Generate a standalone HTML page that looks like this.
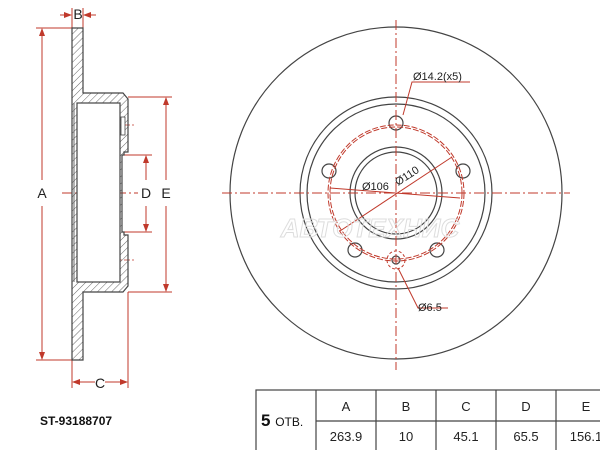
<!DOCTYPE html>
<html><head><meta charset="utf-8"><style>
body{margin:0;background:#fff;width:600px;height:450px;overflow:hidden}
svg{display:block;font-family:"Liberation Sans",Arial,sans-serif}
</style></head><body>
<svg width="600" height="450" viewBox="0 0 600 450">
<defs>
<pattern id="h" width="5" height="5" patternUnits="userSpaceOnUse" patternTransform="rotate(45)">
<line x1="0" y1="0" x2="0" y2="5" stroke="#555" stroke-width="0.9"/></pattern>
<marker id="ar" markerWidth="8" markerHeight="6" refX="7" refY="3" orient="auto"><path d="M0,0L8,3L0,6z" fill="#c0392b"/></marker>
</defs>
<g fill="none" stroke="#c0392b" stroke-width="1">
<line x1="36" y1="28" x2="72" y2="28"/><line x1="36" y1="360" x2="72" y2="360"/>
<line x1="128" y1="97" x2="172" y2="97"/><line x1="128" y1="292" x2="172" y2="292"/>
<line x1="122" y1="155" x2="152" y2="155"/><line x1="122" y1="232" x2="152" y2="232"/>
<line x1="72" y1="360" x2="72" y2="388"/><line x1="128" y1="292" x2="128" y2="388"/>
<line x1="72" y1="8" x2="72" y2="28"/><line x1="83" y1="8" x2="83" y2="28"/>
</g>
<g stroke="#c0392b" stroke-width="1" marker-end="url(#ar)">
<line x1="42" y1="180" x2="42" y2="29"/><line x1="42" y1="206" x2="42" y2="359"/>
<line x1="166" y1="180" x2="166" y2="98"/><line x1="166" y1="206" x2="166" y2="291"/>
<line x1="146" y1="180" x2="146" y2="156"/><line x1="146" y1="206" x2="146" y2="231"/>
<line x1="95" y1="382" x2="73" y2="382"/><line x1="105" y1="382" x2="127" y2="382"/>
<line x1="60" y1="15" x2="71" y2="15"/><line x1="96" y1="15" x2="84" y2="15"/>
</g>
<line x1="62" y1="193" x2="138" y2="193" stroke="#c0392b" stroke-width="1" stroke-dasharray="10,3,2,3"/>
<line x1="116" y1="125" x2="134" y2="125" stroke="#c0392b" stroke-width="0.8" stroke-dasharray="6,2"/>
<line x1="116" y1="260" x2="134" y2="260" stroke="#c0392b" stroke-width="0.8" stroke-dasharray="6,2"/>
<path d="M72,28H83V93H123L128,99V152H124V155H122V232H124V235H128V286L123,292H83V360H72Z" fill="url(#h)" stroke="#444" stroke-width="1.2"/>
<rect x="77" y="103" width="43" height="179" fill="#fff" stroke="#444" stroke-width="1.2"/>
<line x1="122" y1="155" x2="122" y2="232" stroke="#444"/>
<rect x="121" y="117" width="4" height="18" fill="#fff" stroke="#444" stroke-width="0.8"/>
<line x1="74" y1="103" x2="74" y2="282" stroke="#444" stroke-width="0.8"/>
<g font-size="14" fill="#222" text-anchor="middle">
<text x="42" y="198">A</text><text x="78" y="19">B</text><text x="100" y="388">C</text>
<text x="146" y="198">D</text><text x="166" y="198">E</text>
</g>
<g fill="none" stroke="#444" stroke-width="1.2">
<circle cx="396" cy="193" r="166"/>
<circle cx="396" cy="193" r="96"/><circle cx="396" cy="193" r="89"/>
<circle cx="396" cy="193" r="46"/><circle cx="396" cy="193" r="41"/>
<circle cx="396" cy="123" r="7"/><circle cx="463" cy="171" r="7"/><circle cx="437" cy="250" r="7"/>
<circle cx="355" cy="250" r="7"/><circle cx="329" cy="171" r="7"/>
<circle cx="396" cy="260" r="4"/>
</g>
<g fill="none" stroke="#c0392b" stroke-width="1">
<circle cx="396" cy="193" r="68" stroke-dasharray="6,2"/>
<circle cx="396" cy="193" r="66" stroke-dasharray="6,2"/>
<circle cx="396" cy="260" r="9" stroke-dasharray="3,2"/>
<line x1="396" y1="20" x2="396" y2="370" stroke-dasharray="10,3,2,3"/>
<line x1="222" y1="193" x2="570" y2="193" stroke-dasharray="10,3,2,3"/>
<line x1="330" y1="188" x2="460" y2="198"/>
<line x1="340" y1="231" x2="452" y2="157"/>
<polyline points="403,115 412,82 470,82"/>
<polyline points="398,268 418,308 448,308"/>
</g>
<g font-size="11" fill="#222">
<text x="413" y="80">Ø14.2(x5)</text>
<text x="362" y="190">Ø106</text><text x="398" y="186" transform="rotate(-33 398 186)">Ø110</text>
<text x="418" y="311">Ø6.5</text>
</g>
<text x="370" y="237" font-size="26" font-weight="bold" fill="none" stroke="#ddd" stroke-width="1" text-anchor="middle" font-style="italic">АВТОТЕХНИС</text>
<g stroke="#444" stroke-width="1.2" fill="none">
<rect x="256" y="390" width="350" height="70"/>
<line x1="316" y1="421" x2="600" y2="421"/>
<line x1="316" y1="390" x2="316" y2="450"/><line x1="376" y1="390" x2="376" y2="450"/>
<line x1="436" y1="390" x2="436" y2="450"/><line x1="496" y1="390" x2="496" y2="450"/>
<line x1="556" y1="390" x2="556" y2="450"/>
</g>
<g font-size="13" fill="#222" text-anchor="middle">
<text x="346" y="411">A</text><text x="406" y="411">B</text><text x="466" y="411">C</text><text x="526" y="411">D</text><text x="586" y="411">E</text>
<text x="346" y="441">263.9</text><text x="406" y="441">10</text><text x="466" y="441">45.1</text><text x="526" y="441">65.5</text><text x="586" y="441">156.1</text>
</g>
<text x="261" y="426" font-size="17" font-weight="bold" fill="#111">5 <tspan font-size="12" font-weight="normal">ОТВ.</tspan></text>
<text x="40" y="425" font-size="12" font-weight="bold" fill="#111">ST-93188707</text>
</svg>
</body></html>
